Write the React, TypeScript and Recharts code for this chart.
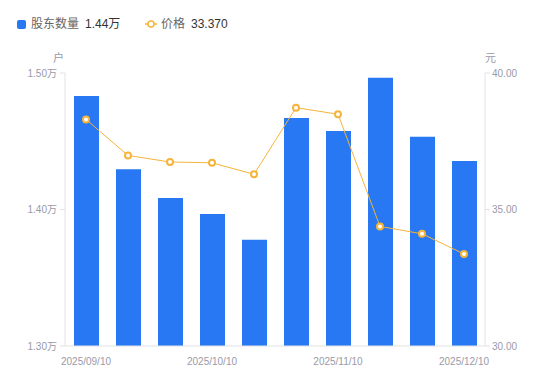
import React from 'react';
import { ComposedChart, Bar, Line, XAxis, YAxis } from 'recharts';

const dates = ['2025/09/10', '2025/09/20', '2025/09/30', '2025/10/10', '2025/10/20', '2025/10/31', '2025/11/10', '2025/11/20', '2025/11/30', '2025/12/10'];
const holders = [14832, 14295, 14084, 13967, 13779, 14670, 14575, 14966, 14533, 14355];
const prices = [38.3, 36.98, 36.74, 36.71, 36.29, 38.73, 38.49, 34.38, 34.11, 33.37];
const leftTicks = [13000, 14000, 15000];
const rightTicks = [30, 35, 40];

const data = dates.map((d, i) => ({ date: d, holders: holders[i], price: prices[i] }));

const FONT = '"Liberation Sans", Arial, "Noto Sans CJK SC", sans-serif';
const TICK = '#9a9aa8';
const AXIS = '#e2e2e6';
const BLUE = '#2778f2';
const ORANGE = '#f6b43a';

export default function App() {
  return (
    <div style={{ position: 'absolute', left: 0, top: 0, width: 550, height: 381, fontFamily: FONT, background: '#fff' }}>
      <div style={{ position: 'absolute', left: 17, top: 16, fontSize: 12, lineHeight: '16px', whiteSpace: 'nowrap' }}>
        <span style={{ position: 'absolute', left: 0, top: 4, width: 9, height: 9, background: BLUE, borderRadius: 2 }} />
        <span style={{ position: 'absolute', left: 14, top: 0, color: '#666' }}>股东数量</span>
        <span style={{ position: 'absolute', left: 68, top: 0, color: '#333' }}>1.44万</span>
        <svg style={{ position: 'absolute', left: 128, top: 3 }} width={12} height={10}>
          <line x1={0} y1={5} x2={12} y2={5} stroke={ORANGE} strokeWidth={1.5} />
          <circle cx={6} cy={5} r={3} fill="#fff" stroke={ORANGE} strokeWidth={1.5} />
        </svg>
        <span style={{ position: 'absolute', left: 144, top: 0, color: '#666' }}>价格</span>
        <span style={{ position: 'absolute', left: 174, top: 0, color: '#333' }}>33.370</span>
      </div>
      <span style={{ position: 'absolute', left: 53, top: 49, fontSize: 11, color: TICK }}>户</span>
      <span style={{ position: 'absolute', left: 485, top: 49, fontSize: 11, color: TICK }}>元</span>
      <ComposedChart
        width={550}
        height={381}
        data={data}
        margin={{ top: 73, right: 0, left: 0, bottom: 5 }}
        style={{ position: 'absolute', left: 0, top: 0, fontFamily: FONT }}
      >
        <XAxis
          dataKey="date"
          interval={2}
          tickLine={false}
          axisLine={{ stroke: AXIS }}
          tick={{ fill: TICK, fontSize: 10 }}
          tickMargin={6}
          height={30}
        />
        <YAxis
          yAxisId="left"
          orientation="left"
          width={65}
          domain={[13000, 15000]}
          ticks={leftTicks}
          tickFormatter={(v: number) => (v / 10000).toFixed(2) + '万'}
          tick={{ fill: TICK, fontSize: 10 }}
          tickSize={5}
          tickMargin={3}
          tickLine={{ stroke: AXIS }}
          axisLine={{ stroke: AXIS }}
          allowDataOverflow
        />
        <YAxis
          yAxisId="right"
          orientation="right"
          width={65}
          domain={[30, 40]}
          ticks={rightTicks}
          tickFormatter={(v: number) => v.toFixed(2)}
          tick={{ fill: TICK, fontSize: 10 }}
          tickSize={5}
          tickMargin={2}
          tickLine={{ stroke: AXIS }}
          axisLine={{ stroke: AXIS }}
        />
        <Bar yAxisId="left" dataKey="holders" fill={BLUE} barSize={25} isAnimationActive={false} />
        <Line
          yAxisId="right"
          dataKey="price"
          type="linear"
          stroke={ORANGE}
          strokeWidth={1}
          dot={{ r: 3, fill: '#fff', stroke: ORANGE, strokeWidth: 2 }}
          isAnimationActive={false}
        />
      </ComposedChart>
    </div>
  );
}
